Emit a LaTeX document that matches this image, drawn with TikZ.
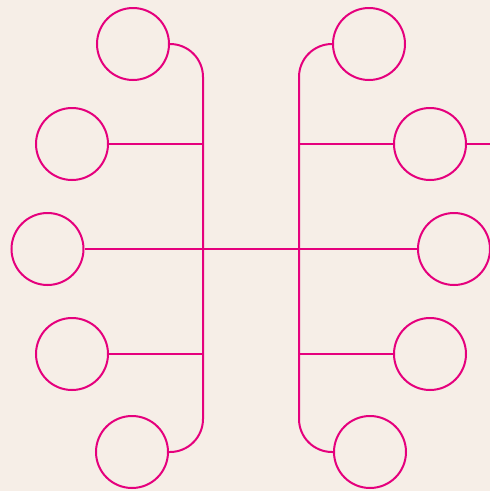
\documentclass[tikz,border=0pt]{standalone}
\definecolor{bg}{HTML}{F6EEE7}
\definecolor{pk}{HTML}{E5007D}
\begin{document}
\begin{tikzpicture}[x=1pt,y=-1pt,
  bub/.style={circle,draw=pk,line width=2pt,minimum size=72pt,inner sep=0pt},
  wire/.style={draw=pk,line width=2pt}]
\fill[bg] (0,0) rectangle (490,491);
\useasboundingbox (0,0) rectangle (490,491);
% left
\node[bub] (l1) at (133,44) {};
\node[bub] (l2) at (72,144) {};
\node[bub] (l3) at (47.5,249) {};
\node[bub] (l4) at (72,354) {};
\node[bub] (l5) at (132,452) {};
% right
\node[bub] (r1) at (369,44) {};
\node[bub] (r2) at (430,144) {};
\node[bub] (r3) at (454,249) {};
\node[bub] (r4) at (430,354) {};
\node[bub] (r5) at (370,452) {};
\coordinate (lt) at (203,44);
\coordinate (lb) at (203,452);
\coordinate (rt) at (299,44);
\coordinate (rb) at (299,452);
\coordinate (edge) at (490,144);
\draw[wire,rounded corners=33pt] (l1.east) -- (lt) -- (lb) -- (l5.east);
\draw[wire,rounded corners=33pt] (r1.west) -- (rt) -- (rb) -- (r5.west);
\draw[wire] (l2.east) -- (l2.east -| lt);
\draw[wire] (l4.east) -- (l4.east -| lt);
\draw[wire] (r2.west) -- (r2.west -| rt);
\draw[wire] (r4.west) -- (r4.west -| rt);
\draw[wire] (l3.east) -- (r3.west);
\draw[wire] (r2.east) -- (edge);
\end{tikzpicture}
\end{document}
